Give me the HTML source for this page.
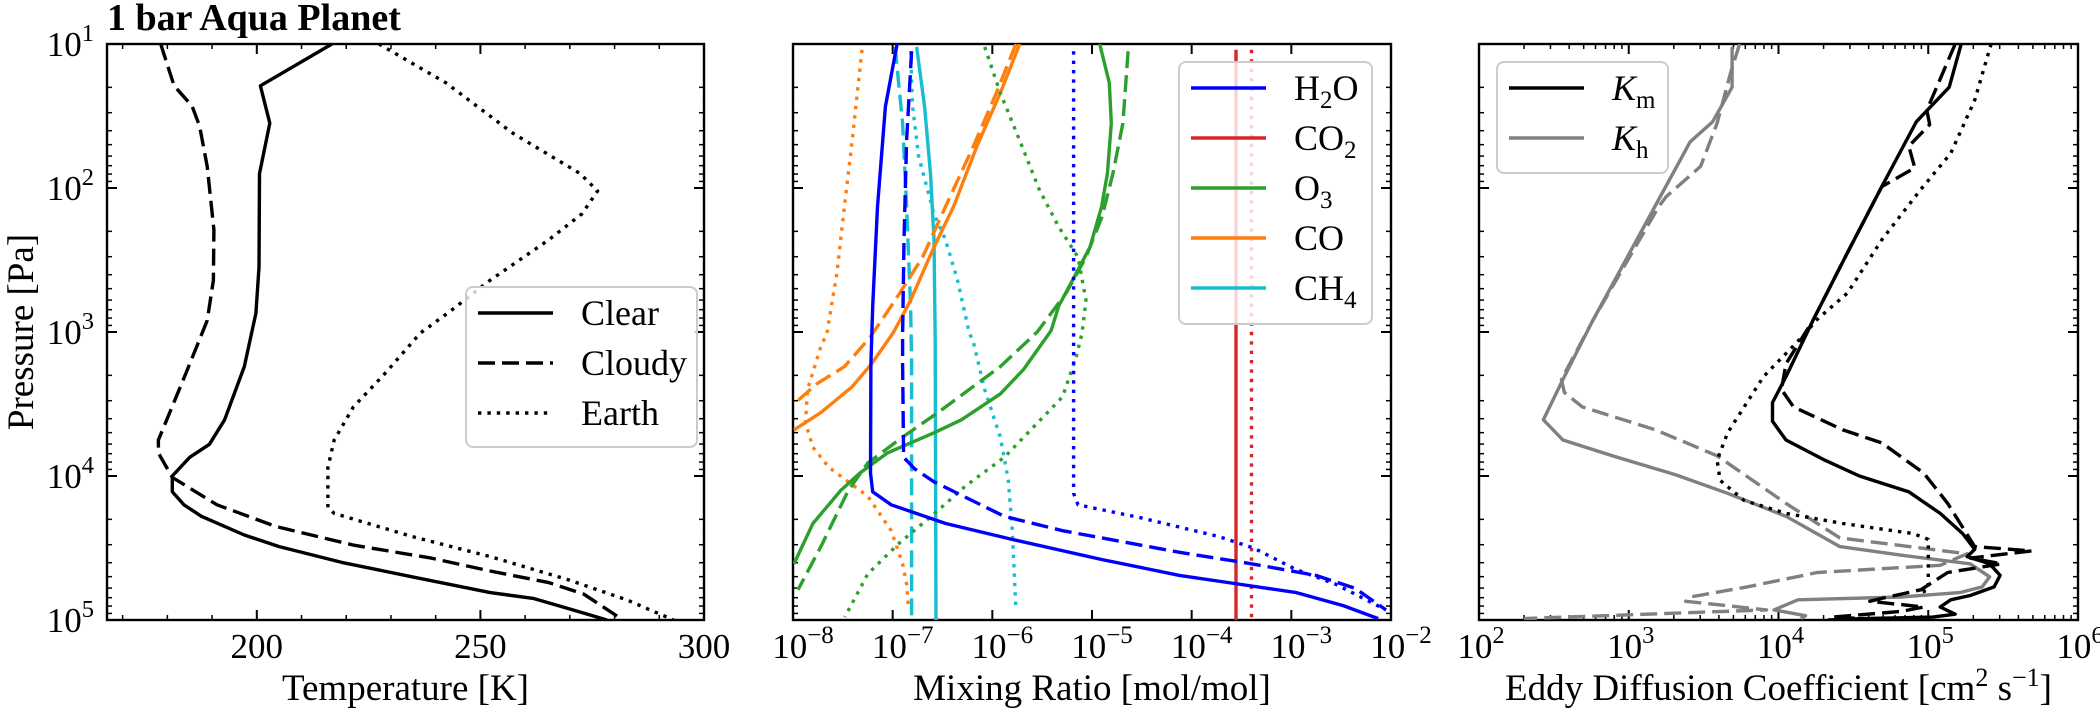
<!DOCTYPE html>
<html><head><meta charset="utf-8"><style>
html,body{margin:0;padding:0;background:#fff;}
svg{display:block;font-family:"Liberation Serif",serif;}
</style></head><body>
<svg id="fig" width="2100" height="719" viewBox="0 0 2100 719" xmlns="http://www.w3.org/2000/svg">
<text x="107" y="30" font-size="38" font-weight="bold">1 bar Aqua Planet</text>
<g id="p1"></g>
<g id="p2"></g>
<g id="p3"></g>
</svg>
<script>
// ---- Data (pressure as log10 Pa) ----
const clearTemp = [[216.8,1.0],[200.8,1.29],[202.9,1.55],[200.6,1.9],[200.5,2.55],[199.8,2.87],[197.2,3.24],[192.8,3.61],[189.4,3.78],[185,3.87],[181.1,4.0],[181.1,4.11],[183.7,4.2],[187.6,4.28],[197.2,4.41],[205,4.49],[219,4.6],[234.7,4.7],[252.2,4.81],[261.8,4.85],[269.6,4.92],[278.3,5.0]];
const cloudyTemp = [[178.5,1.0],[181.5,1.29],[185.5,1.43],[187.2,1.57],[188.9,1.85],[190.4,2.29],[190.3,2.64],[188.9,2.92],[184.1,3.29],[178,3.75],[178,3.84],[181.1,4.01],[191.1,4.2],[204.2,4.35],[221.6,4.48],[239,4.57],[252.2,4.66],[265.3,4.74],[273.1,4.82],[281.9,5.0]];
const earthTemp = [[227.3,1.0],[242.3,1.27],[257.3,1.62],[272.3,1.9],[276.2,2.02],[272.7,2.18],[265.3,2.36],[252.2,2.64],[243.5,2.85],[236.5,3.01],[228.6,3.29],[221.6,3.52],[217.3,3.75],[215.9,3.94],[215.9,4.22],[217.3,4.26],[234.7,4.42],[252.2,4.56],[269.6,4.72],[282.7,4.86],[293.2,5.0]];
const tempTicks = [200,250,300];

// Mixing ratios: [log10 mol/mol, log10 P]
const h2oClear = [[-6.956,1.0],[-7.073,1.435],[-7.152,2.13],[-7.2,2.82],[-7.218,3.22],[-7.222,3.98],[-7.2,4.11],[-7.015,4.2],[-6.468,4.33],[-5.803,4.44],[-4.904,4.58],[-4.122,4.69],[-3.536,4.75],[-2.949,4.81],[-2.48,4.9],[-2.128,4.99]];
const h2oCloudy = [[-6.81,1.05],[-6.86,1.67],[-6.886,2.36],[-6.9,3.03],[-6.9,3.22],[-6.89,3.87],[-6.78,3.95],[-6.585,4.04],[-5.88,4.28],[-5.295,4.38],[-4.122,4.53],[-3.4,4.61],[-2.754,4.69],[-2.36,4.78],[-2.05,4.93]];
const h2oEarth = [[-5.185,1.05],[-5.185,4.12],[-5.14,4.2],[-4.51,4.29],[-3.73,4.42],[-3.38,4.5],[-2.95,4.65],[-2.56,4.75],[-2.05,4.93]];
const co2Clear = [[-3.555,1.04],[-3.555,5.0]];
const co2Earth = [[-3.4,1.04],[-3.4,5.0]];
const o3Clear = [[-4.923,1.0],[-4.826,1.27],[-4.806,1.55],[-4.845,1.9],[-4.904,2.13],[-5.02,2.41],[-5.158,2.59],[-5.334,2.82],[-5.41,2.99],[-5.686,3.26],[-5.92,3.43],[-6.31,3.61],[-6.585,3.7],[-7.054,3.84],[-7.33,3.98],[-7.52,4.1],[-7.8,4.33],[-7.99,4.61]];
const o3Cloudy = [[-4.638,1.05],[-4.69,1.55],[-4.79,1.9],[-4.9,2.2],[-5.06,2.48],[-5.26,2.73],[-5.55,3.0],[-5.92,3.24],[-6.546,3.56],[-6.9,3.73],[-7.25,3.91],[-7.445,4.1],[-7.72,4.49],[-7.95,4.79]];
const o3Earth = [[-6.077,1.02],[-5.92,1.34],[-5.725,1.67],[-5.53,2.01],[-5.334,2.27],[-5.14,2.48],[-5.06,2.78],[-5.1,3.01],[-5.158,3.17],[-5.295,3.45],[-5.49,3.59],[-5.88,3.87],[-6.27,4.07],[-6.546,4.24],[-6.94,4.47],[-7.25,4.68],[-7.48,4.98]];
const coClear = [[-5.725,1.0],[-5.92,1.34],[-6.155,1.71],[-6.39,2.13],[-6.585,2.41],[-6.82,2.78],[-6.99,3.0],[-7.21,3.22],[-7.406,3.38],[-7.72,3.56],[-7.99,3.68]];
const coCloudy = [[-5.764,1.0],[-5.96,1.34],[-6.19,1.71],[-6.47,2.13],[-6.7,2.48],[-6.976,2.78],[-7.23,3.04],[-7.484,3.24],[-7.76,3.36],[-7.99,3.5]];
const coEarth = [[-7.308,1.04],[-7.406,1.67],[-7.484,2.13],[-7.56,2.59],[-7.66,3.01],[-7.72,3.1],[-7.855,3.4],[-7.875,3.63],[-7.8,3.8],[-7.64,3.94],[-7.25,4.14],[-7.015,4.38],[-6.9,4.61],[-6.86,4.75],[-6.84,4.93]];
const ch4Clear = [[-6.76,1.02],[-6.68,1.435],[-6.62,1.9],[-6.585,2.36],[-6.573,3.06],[-6.565,5.0]];
const ch4Cloudy = [[-6.976,1.02],[-6.9,1.55],[-6.86,2.13],[-6.82,2.82],[-6.81,3.2],[-6.81,5.0]];
const ch4Earth = [[-6.82,1.05],[-6.8,1.435],[-6.74,1.78],[-6.585,2.18],[-6.47,2.36],[-6.35,2.64],[-6.23,3.01],[-6.194,3.06],[-6.077,3.4],[-5.92,3.73],[-5.84,4.03],[-5.8,4.38],[-5.764,4.93]];
const mixTicks = [-8,-7,-6,-5,-4,-3,-2];

// Eddy diffusion: [log10 cm2/s, log10 P]
const kmClear = [[5.22,1.0],[5.14,1.3],[4.92,1.54],[4.69,1.99],[4.46,2.45],[4.23,2.92],[4.05,3.31],[3.96,3.49],[3.96,3.62],[4.05,3.75],[4.31,3.89],[4.54,4.0],[4.87,4.11],[5.08,4.26],[5.23,4.4],[5.31,4.51],[5.26,4.56],[5.41,4.61],[5.48,4.69],[5.44,4.77],[5.28,4.83],[5.15,4.86],[5.08,4.91],[5.18,4.96],[5.03,4.98],[4.56,4.99],[4.33,5.0]];
const kmCloudy = [[5.18,1.0],[4.99,1.46],[5.01,1.56],[4.87,1.71],[4.91,1.86],[4.69,1.99],[4.46,2.45],[4.23,2.92],[4.05,3.22],[4.02,3.4],[4.1,3.52],[4.43,3.68],[4.69,3.77],[4.97,3.98],[5.13,4.19],[5.28,4.44],[5.31,4.49],[5.69,4.52],[5.28,4.57],[5.49,4.61],[5.13,4.67],[4.95,4.79],[4.69,4.85],[4.61,4.87],[4.97,4.91],[4.82,4.94],[4.36,4.98],[4.56,4.99]];
const kmEarth = [[5.42,1.0],[5.31,1.39],[5.15,1.76],[4.95,2.01],[4.69,2.36],[4.46,2.73],[4.25,2.92],[4.18,3.01],[3.9,3.31],[3.66,3.7],[3.59,3.89],[3.61,4.03],[3.77,4.17],[4.05,4.26],[4.43,4.33],[4.9,4.4],[5.0,4.44],[5.0,4.79],[4.95,4.81]];
const khClear = [[3.69,1.02],[3.69,1.3],[3.56,1.54],[3.41,1.68],[3.2,2.08],[2.76,2.92],[2.56,3.33],[2.43,3.61],[2.56,3.75],[2.89,3.86],[3.31,3.99],[3.66,4.12],[4.05,4.28],[4.41,4.49],[4.82,4.55],[5.28,4.61],[5.41,4.70],[5.36,4.77],[5.21,4.81],[4.82,4.84],[4.13,4.86],[3.97,4.93],[4.18,4.97],[4.15,4.99]];
const khCloudy = [[3.74,1.0],[3.68,1.2],[3.59,1.55],[3.48,1.85],[3.25,2.06],[3.2,2.13],[2.76,2.92],[2.55,3.33],[2.57,3.42],[2.69,3.52],[3.18,3.68],[3.59,3.86],[4.05,4.19],[4.41,4.43],[5.26,4.54],[5.08,4.62],[4.26,4.67],[3.79,4.77],[3.41,4.84],[3.38,4.87],[3.92,4.93],[2.3,4.99]];
const eddyTicks = [2,3,4,5,6];
const pressureTicks = [1,2,3,4,5];

// ---- Layout ----
const NS='http://www.w3.org/2000/svg';
const TOP=44, BOT=620;
const P1={x0:107,x1:704,min:166.5,max:300,log:false};
const P2={x0:793,x1:1391,min:-8,max:-2,log:true};
const P3={x0:1479,x1:2078,min:2,max:6,log:true};
function yS(lp){return TOP+(lp-1)/4*(BOT-TOP);}
function xS(p,v){return p.x0+(v-p.min)/(p.max-p.min)*(p.x1-p.x0);}
function mk(tag,attrs,parent){const e=document.createElementNS(NS,tag);for(const k in attrs)e.setAttribute(k,attrs[k]);parent.appendChild(e);return e;}
const LW=3.4;
const DASH={solid:'',dashed:'17,7',dotted:'3.4,6'};
const BLUE='#0000ff',RED='#d62728',GREEN='#2ca02c',ORANGE='#ff7f0e',CYAN='#17becf',GRAY='#808080';

function line(g,p,data,color,style,name){
  const d=data.map((pt,i)=>(i?'L':'M')+xS(p,pt[0]).toFixed(1)+','+yS(pt[1]).toFixed(1)).join(' ');
  const e=mk('path',{d:d,fill:'none',stroke:color,'stroke-width':LW,'stroke-dasharray':DASH[style],'stroke-linejoin':'round','clip-path':'url(#'+g.id+'clip)'},g);
  
  
}
function sup(parent,x,y,base,exp,anchor,fs){
  const t=mk('text',{x:x,y:y,'font-size':fs,'text-anchor':anchor},parent);
  t.appendChild(document.createTextNode(base));
  const s=mk('tspan',{dy:-15,'font-size':fs*0.7},t);s.textContent=exp;
  return t;
}
function frame(g,p,name){
  const defs=mk('defs',{},g);const cp=mk('clipPath',{id:g.id+'clip'},defs);
  mk('rect',{x:p.x0,y:TOP,width:p.x1-p.x0,height:BOT-TOP},cp);
  const yt=mk('g',{},g);
  
  
  for(let dec=1;dec<=5;dec++){
    const y=yS(dec);
    mk('line',{x1:p.x0,x2:p.x0+10,y1:y,y2:y,stroke:'#000','stroke-width':2},yt);
    mk('line',{x1:p.x1,x2:p.x1-10,y1:y,y2:y,stroke:'#000','stroke-width':2},yt);
    if(dec<5)for(let k=2;k<10;k++){const yy=yS(dec+Math.log10(k));
      mk('line',{x1:p.x0,x2:p.x0+5,y1:yy,y2:yy,stroke:'#000','stroke-width':1.5},yt);
      mk('line',{x1:p.x1,x2:p.x1-5,y1:yy,y2:yy,stroke:'#000','stroke-width':1.5},yt);}
  }
  mk('rect',{x:p.x0,y:TOP,width:p.x1-p.x0,height:BOT-TOP,fill:'none',stroke:'#000','stroke-width':2.4},g);
}
function xtick(g,x,len){
  mk('line',{x1:x,x2:x,y1:BOT,y2:BOT-len,stroke:'#000','stroke-width':len>6?2:1.5},g);
  mk('line',{x1:x,x2:x,y1:TOP,y2:TOP+len,stroke:'#000','stroke-width':len>6?2:1.5},g);
}
function legend(g,x,y,w,h,items,name){
  const lg=mk('g',{},g);
  
  
  mk('rect',{x:x,y:y,width:w,height:h,rx:7,fill:'#fff','fill-opacity':0.8,stroke:'#cccccc','stroke-width':2},lg);
  items.forEach((it,i)=>{
    const yy=y+26+i*50;
    const l=mk('line',{x1:x+12,x2:x+87,y1:yy,y2:yy,stroke:it.c,'stroke-width':LW,'stroke-dasharray':DASH[it.s]},lg);
    
    
    const t=mk('text',{x:x+115,y:yy+12,'font-size':36},lg);
    
    
    it.parts.forEach(pt=>{const s=mk('tspan',{},t);s.textContent=pt[0];
      if(pt[1]==='sub'){s.setAttribute('font-size',25);s.setAttribute('dy',8);}
      else if(pt[1]==='it'){s.setAttribute('font-style','italic');s.setAttribute('dy',0);}
      else if(pt[1]==='up'){s.setAttribute('dy',-8);}
    });
  });
}

// ---- Panel 1 ----
(function(){
  const g=document.getElementById('p1');
  frame(g,P1,'temperature');
  const xt=mk('g',{},g);
  
  
  for(let v=170;v<=300;v+=10){xtick(xt,xS(P1,v),v%50===0?10:5);}
  tempTicks.forEach(v=>{const t=mk('text',{x:xS(P1,v),y:658,'font-size':35,'text-anchor':'middle'},xt);t.textContent=v;});
  pressureTicks.forEach(d=>{const t=sup(g,94,yS(d)+12,'10',String(d),'end',35);
    
    });
  line(g,P1,clearTemp,'#000','solid','clear-temperature-line');
  line(g,P1,cloudyTemp,'#000','dashed','cloudy-temperature-line');
  line(g,P1,earthTemp,'#000','dotted','earth-temperature-line');
  const xl=mk('text',{x:(P1.x0+P1.x1)/2,y:700,'font-size':37,'text-anchor':'middle'},g);xl.textContent='Temperature [K]';
  
  
  const yl=mk('text',{x:0,y:0,'font-size':37,'text-anchor':'middle',transform:'translate(33,'+((TOP+BOT)/2)+') rotate(-90)'},g);yl.textContent='Pressure [Pa]';
  
  
  legend(g,466,287,231,160,[
    {id:'clear',c:'#000',s:'solid',parts:[['Clear','']]},
    {id:'cloudy',c:'#000',s:'dashed',parts:[['Cloudy','']]},
    {id:'earth',c:'#000',s:'dotted',parts:[['Earth','']]}],'temperature-legend');
})();

// ---- Panel 2 ----
(function(){
  const g=document.getElementById('p2');
  frame(g,P2,'mixing-ratio');
  const xt=mk('g',{},g);
  
  
  mixTicks.forEach(v=>{xtick(xt,xS(P2,v),10);
    const t=mk('text',{x:xS(P2,v)+10,y:658,'font-size':35,'text-anchor':'middle'},xt);
    t.appendChild(document.createTextNode('10'));
    const s=mk('tspan',{dy:-15,'font-size':25},t);s.textContent='\u2212'+String(-v);});
  line(g,P2,co2Clear,RED,'solid','co2-clear-line');
  line(g,P2,co2Earth,RED,'dotted','co2-earth-line');
  line(g,P2,ch4Clear,CYAN,'solid','ch4-clear-line');
  line(g,P2,ch4Cloudy,CYAN,'dashed','ch4-cloudy-line');
  line(g,P2,ch4Earth,CYAN,'dotted','ch4-earth-line');
  line(g,P2,coClear,ORANGE,'solid','co-clear-line');
  line(g,P2,coCloudy,ORANGE,'dashed','co-cloudy-line');
  line(g,P2,coEarth,ORANGE,'dotted','co-earth-line');
  line(g,P2,o3Clear,GREEN,'solid','o3-clear-line');
  line(g,P2,o3Cloudy,GREEN,'dashed','o3-cloudy-line');
  line(g,P2,o3Earth,GREEN,'dotted','o3-earth-line');
  line(g,P2,h2oClear,BLUE,'solid','h2o-clear-line');
  line(g,P2,h2oCloudy,BLUE,'dashed','h2o-cloudy-line');
  line(g,P2,h2oEarth,BLUE,'dotted','h2o-earth-line');
  const xl=mk('text',{x:(P2.x0+P2.x1)/2,y:700,'font-size':37,'text-anchor':'middle'},g);xl.textContent='Mixing Ratio [mol/mol]';
  
  
  legend(g,1179,62,193,262,[
    {id:'h2o',c:BLUE,s:'solid',parts:[['H',''],['2','sub'],['O','up']]},
    {id:'co2',c:RED,s:'solid',parts:[['CO',''],['2','sub']]},
    {id:'o3',c:GREEN,s:'solid',parts:[['O',''],['3','sub']]},
    {id:'co',c:ORANGE,s:'solid',parts:[['CO','']]},
    {id:'ch4',c:CYAN,s:'solid',parts:[['CH',''],['4','sub']]}],'species-legend');
})();

// ---- Panel 3 ----
(function(){
  const g=document.getElementById('p3');
  frame(g,P3,'eddy');
  const xt=mk('g',{},g);
  
  
  for(let d=2;d<=6;d++){xtick(xt,xS(P3,d),10);
    if(d<6)for(let k=2;k<10;k++)xtick(xt,xS(P3,d+Math.log10(k)),5);}
  eddyTicks.forEach(v=>{const t=sup(xt,xS(P3,v)+2,658,'10',String(v),'middle',35);});
  line(g,P3,khClear,GRAY,'solid','kh-clear-line');
  line(g,P3,khCloudy,GRAY,'dashed','kh-cloudy-line');
  line(g,P3,kmEarth,'#000','dotted','km-earth-line');
  line(g,P3,kmClear,'#000','solid','km-clear-line');
  line(g,P3,kmCloudy,'#000','dashed','km-cloudy-line');
  const xl=mk('text',{x:(P3.x0+P3.x1)/2,y:700,'font-size':37,'text-anchor':'middle'},g);
  
  
  xl.appendChild(document.createTextNode('Eddy Diffusion Coefficient [cm'));
  let s=mk('tspan',{dy:-14,'font-size':26},xl);s.textContent='2';
  s=mk('tspan',{dy:14},xl);s.textContent=' s';
  s=mk('tspan',{dy:-14,'font-size':26},xl);s.textContent='\u22121';
  s=mk('tspan',{dy:14},xl);s.textContent=']';
  legend(g,1497,62,171,111,[
    {id:'km',c:'#000',s:'solid',parts:[['K','it'],['m','sub']]},
    {id:'kh',c:GRAY,s:'solid',parts:[['K','it'],['h','sub']]}],'eddy-legend');
})();
</script>
</body></html>
